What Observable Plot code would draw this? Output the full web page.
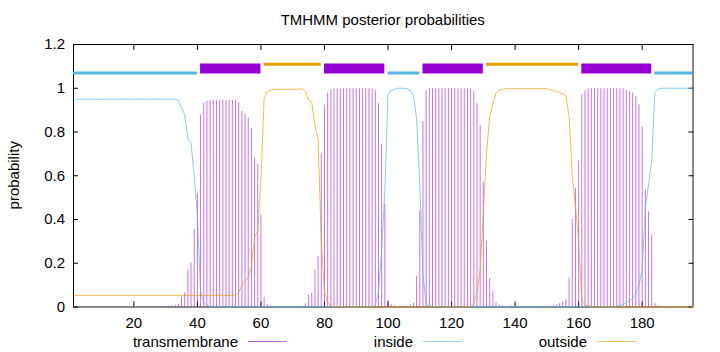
<!DOCTYPE html>
<html><head><meta charset="utf-8">
<script src="https://cdn.jsdelivr.net/npm/d3@7"></script>
<script src="https://cdn.jsdelivr.net/npm/@observablehq/plot@0.6"></script>
<style>
body{margin:0;background:#fff;}
#wrap{position:relative;width:720px;height:352px;font-family:"Liberation Sans",Arial,Helvetica,sans-serif;}
#wrap > svg{position:absolute;left:0;top:0;}
</style></head><body>
<div id="wrap"></div>
<script>
// ---------- data ----------
const titleText = "TMHMM posterior probabilities";
const yLabel = "probability";
const seriesNames = ["transmembrane", "inside", "outside"];
const xTicks = [20, 40, 60, 80, 100, 120, 140, 160, 180];
const yTicks = [0, 0.2, 0.4, 0.6, 0.8, 1, 1.2];
const seqLength = 196;

// posterior probability of "inside", residues 1..196
const insideProb = [
 0.95,0.95,0.95,0.95,0.95,0.95,0.95,0.95,0.95,0.95,
 0.95,0.95,0.95,0.95,0.95,0.95,0.95,0.95,0.95,0.95,
 0.95,0.95,0.95,0.95,0.95,0.95,0.95,0.95,0.95,0.95,
 0.95,0.95,0.95,0.945,0.91,0.88,0.77,0.75,0.6,0.42,
 0.07,0.02,0.007,0.003,0.002,0.002,0.001,0.001,0.001,0.001,
 0.001,0.001,0.001,0.001,0.001,0.001,0.001,0.001,0.001,0.001,
 0.001,0.001,0.001,0.001,0.001,0.001,0.001,0.001,0.001,0.001,
 0.001,0.001,0.001,0.001,0.001,0.001,0.001,0.001,0.001,0.001,
 0.001,0.001,0.001,0.001,0.001,0.001,0.001,0.001,0.001,0.001,
 0.001,0.001,0.001,0.002,0.003,0.005,0.07,0.26,0.53,0.97,
 0.99,0.995,1,1,1,0.997,0.99,0.97,0.86,0.56,
 0.15,0.01,0.005,0.002,0.001,0.001,0.001,0.001,0.001,0.001,
 0.001,0.001,0.001,0.001,0.001,0.001,0.001,0.001,0.001,0.001,
 0.001,0.001,0.001,0.001,0.001,0.001,0.001,0.001,0.001,0.001,
 0.001,0.001,0.001,0.001,0.001,0.001,0.001,0.001,0.001,0.001,
 0.001,0.001,0.001,0.001,0.001,0.001,0.001,0.001,0.001,0.001,
 0.001,0.001,0.001,0.001,0.001,0.001,0.001,0.001,0.001,0.001,
 0.002,0.004,0.007,0.012,0.02,0.03,0.04,0.06,0.1,0.17,
 0.45,0.56,0.67,0.98,0.995,1,1,1,1,1,
 1,1,1,1,1,1
];

// posterior probability of "outside", residues 1..196
const outsideProb = [
 0.053,0.053,0.053,0.053,0.053,0.053,0.053,0.053,0.053,0.053,
 0.053,0.053,0.053,0.053,0.053,0.053,0.053,0.053,0.053,0.053,
 0.053,0.053,0.053,0.053,0.053,0.053,0.053,0.053,0.053,0.053,
 0.053,0.053,0.053,0.053,0.053,0.053,0.053,0.053,0.053,0.053,
 0.053,0.053,0.053,0.053,0.053,0.053,0.053,0.053,0.053,0.053,
 0.053,0.055,0.065,0.1,0.117,0.137,0.183,0.32,0.346,0.58,
 0.955,0.985,0.99,0.993,0.995,0.995,0.995,0.995,0.995,0.995,
 0.995,0.996,0.998,0.985,0.947,0.935,0.83,0.764,0.3,0.07,
 0.02,0.005,0.002,0.001,0,0,0,0,0,0,
 0,0,0,0,0,0,0,0,0,0,
 0,0,0,0,0,0,0,0,0,0,
 0,0,0,0,0,0,0,0,0,0,
 0,0,0,0,0,0.001,0.015,0.07,0.17,0.43,
 0.7,0.87,0.93,0.978,0.99,0.995,0.998,0.998,0.998,0.998,
 0.998,0.998,0.998,0.998,0.998,0.998,0.998,0.998,0.998,0.998,
 0.993,0.99,0.985,0.98,0.975,0.965,0.87,0.6,0.46,0.3,
 0.03,0.01,0.005,0.002,0.001,0,0,0,0,0,
 0,0,0,0,0,0,0,0,0,0,
 0,0,0,0,0,0,0,0,0,0,
 0,0,0,0,0,0
];

// posterior probability of "transmembrane", residues 1..196
const tmProb = [
 0,0,0,0,0,0,0,0,0,0,
 0,0,0,0,0,0,0,0,0,0,
 0,0,0,0,0,0,0,0,0,0.002,
 0.003,0.005,0.008,0.012,0.045,0.065,0.17,0.2,0.355,0.52,
 0.878,0.932,0.94,0.945,0.945,0.945,0.945,0.945,0.945,0.945,
 0.945,0.945,0.935,0.894,0.883,0.863,0.817,0.68,0.654,0.42,
 0.045,0.011,0.005,0.003,0.001,0.001,0.001,0.001,0.001,0.001,
 0.002,0.003,0.004,0.015,0.053,0.063,0.17,0.23,0.7,0.92,
 0.978,0.993,0.997,0.997,0.997,0.997,0.997,0.997,0.997,0.997,
 0.997,0.997,0.997,0.997,0.997,0.99,0.929,0.744,0.47,0.03,
 0.011,0.005,0.002,0.001,0.002,0.004,0.01,0.017,0.14,0.44,
 0.848,0.99,0.998,0.998,0.998,0.998,0.998,0.998,0.998,0.998,
 0.998,0.998,0.998,0.998,0.998,0.998,0.985,0.929,0.83,0.57,
 0.3,0.13,0.07,0.02,0.008,0.004,0.002,0.001,0.005,0.001,
 0.001,0.001,0.001,0.001,0.001,0.001,0.001,0.001,0.002,0.003,
 0.004,0.006,0.01,0.015,0.022,0.034,0.132,0.4,0.54,0.667,
 0.97,0.989,0.996,0.998,0.998,0.998,0.998,0.998,0.998,0.998,
 0.998,0.998,0.998,0.998,0.99,0.985,0.978,0.962,0.924,0.822,
 0.534,0.435,0.328,0.015,0.005,0.002,0,0,0,0,
 0,0,0,0,0,0
];

// predicted topology (segments)
const segType  = ["inside","TMhelix","outside","TMhelix","inside","TMhelix","outside","TMhelix","inside"];
const segStart = [1, 41, 61, 80, 100, 111, 131, 161, 184];
const segEnd   = [40, 60, 79, 99, 110, 130, 160, 183, 196];

// ---------- build ----------
if (insideProb.length !== seqLength || outsideProb.length !== seqLength || tmProb.length !== seqLength)
  throw new Error("length mismatch " + insideProb.length + " " + outsideProb.length + " " + tmProb.length);

const residues = d3.range(1, seqLength + 1);
const table = residues.map((r, i) => ({pos: r, inside: insideProb[i], outside: outsideProb[i], tm: tmProb[i]}));
const segments = segType.map((t, i) => ({type: t, start: segStart[i], end: segEnd[i]}));

const colors = {TMhelix: "#9400d3", inside: "#56b4e9", outside: "#e69f00"};
const trackLevel = {TMhelix: 1.09, inside: 1.07, outside: 1.11};
const trackWidth = {TMhelix: 10, inside: 3, outside: 3};

const W = 720, H = 352;
const mL = 73, mR = 27.5, mT = 44, mB = 45.5;

const chart = Plot.plot({
  width: W, height: H,
  marginLeft: mL, marginRight: mR, marginTop: mT, marginBottom: mB,
  style: {fontFamily: '"Liberation Sans", Arial, Helvetica, sans-serif', fontSize: "15px", background: "white", color: "black"},
  x: {domain: [1, seqLength]},
  y: {domain: [0, 1.2]},
  marks: [
    // border (gnuplot style)
    Plot.ruleX([1], {stroke: "black", strokeWidth: 1}),
    Plot.ruleY([1.2], {stroke: "black", strokeWidth: 1}),
    Plot.ruleX([seqLength], {stroke: "#888", strokeWidth: 2}),
    Plot.ruleY([0], {stroke: "#888", strokeWidth: 2}),
    // inward ticks
    Plot.axisY(yTicks, {anchor: "left", tickSize: 5, dx: 5, fill: "none", stroke: "black"}),
    Plot.axisY(yTicks, {anchor: "right", tickSize: 5, dx: -5, fill: "none", stroke: "black"}),
    Plot.axisX(xTicks, {anchor: "bottom", tickSize: 5, dy: -5, fill: "none", stroke: "black"}),
    Plot.axisX(xTicks, {anchor: "top", tickSize: 5, dy: 5, fill: "none", stroke: "black"}),
    // tick labels
    Plot.axisY(yTicks, {anchor: "left", tickSize: 0, tickPadding: 8.5, label: null, tickFormat: d => String(d)}),
    Plot.axisX(xTicks, {anchor: "bottom", tickSize: 0, tickPadding: 10, label: null, tickFormat: d => String(d)}),
    // transmembrane impulses
    Plot.ruleX(table, {x: "pos", y1: 0, y2: "tm", stroke: colors.TMhelix, strokeWidth: 1, strokeOpacity: 0.55}),
    // inside & outside curves
    Plot.line(table, {x: "pos", y: "inside", stroke: colors.inside, strokeWidth: 1, strokeOpacity: 0.7}),
    Plot.line(table, {x: "pos", y: "outside", stroke: colors.outside, strokeWidth: 1, strokeOpacity: 0.7}),
    // topology track
    Plot.ruleY(segments, {y: d => trackLevel[d.type], x1: "start", x2: "end",
      stroke: d => colors[d.type], strokeWidth: d => trackWidth[d.type]})
  ]
});
document.getElementById("wrap").appendChild(chart);

// overlay: title, y label, legend
const ov = d3.select("#wrap").append("svg").attr("width", W).attr("height", H)
  .style("font-family", '"Liberation Sans", Arial, Helvetica, sans-serif').style("font-size", "15px");
ov.append("text").attr("x", (mL + (W - mR)) / 2).attr("y", 25).attr("text-anchor", "middle").text(titleText);
ov.append("text").attr("transform", `translate(19,${(mT + (H - mB)) / 2}) rotate(-90)`).attr("text-anchor", "middle").text(yLabel);
const legendEnds = [238, 413, 587];
const legendColors = [colors.TMhelix, colors.inside, colors.outside];
seriesNames.forEach((name, i) => {
  ov.append("text").attr("x", legendEnds[i]).attr("y", 346.5).attr("text-anchor", "end").text(name);
  ov.append("line").attr("x1", legendEnds[i] + 10).attr("x2", legendEnds[i] + 49)
    .attr("y1", 341.5).attr("y2", 341.5).attr("stroke", legendColors[i]).attr("stroke-opacity", 0.6).attr("stroke-width", 1);
});
</script>
</body></html>
